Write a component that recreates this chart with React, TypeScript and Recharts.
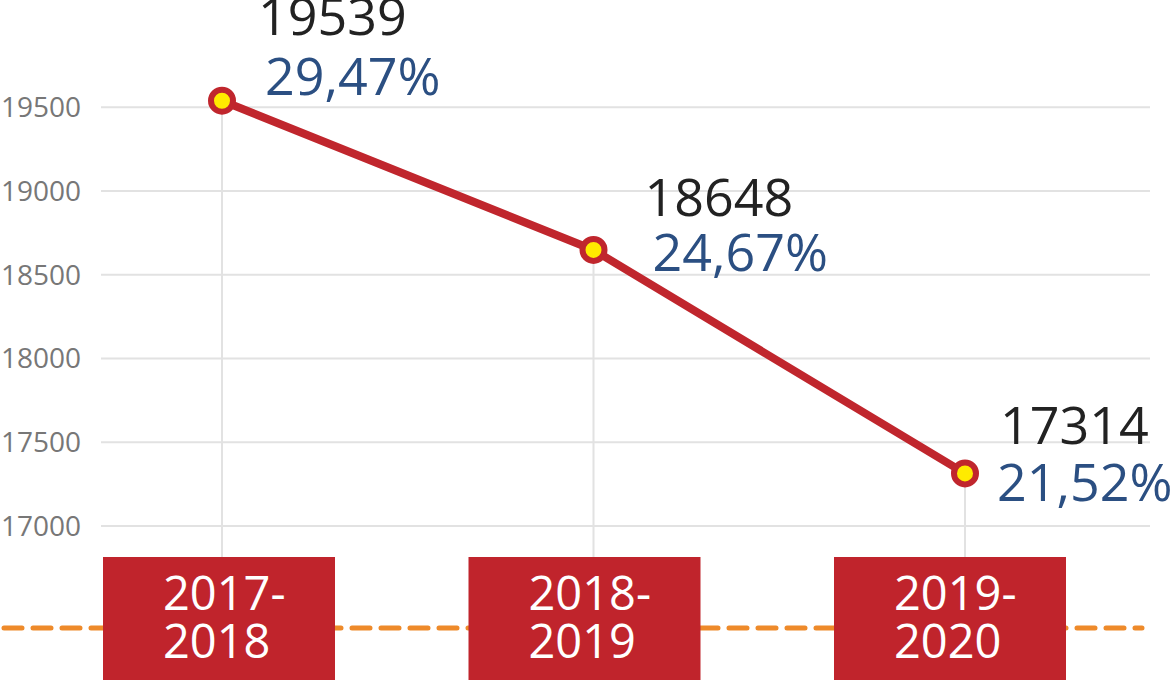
import * as React from 'react';
import { LineChart, Line, XAxis, YAxis, ReferenceLine } from 'recharts';

const periods = ['2017-2018', '2018-2019', '2019-2020'];
const students = [19539, 18648, 17314];
const shares = ['29,47%', '24,67%', '21,52%'];
const yTicks = [17000, 17500, 18000, 18500, 19000, 19500];
const yFloor = 16815;

// label offsets (value line / percent line) relative to each point
const labelOffsets = [
  { vx: 36, vy: -66, px: 43, py: -6 },
  { vx: 51, vy: -34, px: 59, py: 21 },
  { vx: 35, vy: -29, px: 32, py: 28 },
];

const data = periods.map((p, i) => ({ period: p, value: students[i], share: shares[i] }));

const FONT = '"Open Sans", "Noto Sans", sans-serif';
const RED = '#c0262d';
const GRID = '#e2e2e2';

const PeriodTick = (props: any) => {
  const { x, y, payload, index } = props;
  const [a, b] = String(payload.value).split('-');
  const cx = x - 3 - 6 * index;
  return (
    <g>
      <rect x={cx - 116} y={y} width={232} height={130} fill="#c0242c" />
      <text x={cx - 56} y={y + 53} fill="#fff" fontSize={47} fontFamily={FONT}>{a}-</text>
      <text x={cx - 56} y={y + 101} fill="#fff" fontSize={47} fontFamily={FONT}>{b}</text>
    </g>
  );
};

const PointLabel = (props: any) => {
  const { x, y, index } = props;
  const o = labelOffsets[index];
  return (
    <g>
      <text x={x + o.vx} y={y + o.vy} fill="#222" fontSize={52} fontFamily={FONT}>{students[index]}</text>
      <text x={x + o.px} y={y + o.py} fill="#2b4f82" fontSize={52} fontFamily={FONT}>{shares[index]}</text>
    </g>
  );
};

export default function App() {
  return (
    <div style={{ position: 'relative', width: 1170, height: 680, background: '#fff' }}>
      <style>{`body{margin:0}`}</style>
      <svg width={1170} height={680} style={{ position: 'absolute', left: 0, top: 0 }}>
        <line x1={4} y1={628} x2={1142} y2={628} stroke="#ee8a2a" strokeWidth={5} strokeDasharray="18 11" strokeLinecap="round" />
      </svg>
      <div style={{ position: 'absolute', left: 0, top: 0 }}>
        <LineChart width={1170} height={680} data={data} margin={{ top: 57, right: 20, bottom: 0, left: 0 }}>
          {yTicks.map((t) => (
            <ReferenceLine key={t} y={t} stroke={GRID} strokeWidth={2} />
          ))}
          {data.map((d) => (
            <ReferenceLine
              key={d.period}
              segment={[{ x: d.period, y: yFloor }, { x: d.period, y: d.value }]}
              stroke={GRID}
              strokeWidth={2}
            />
          ))}
          <XAxis
            dataKey="period"
            axisLine={false}
            tickLine={false}
            tickSize={0}
            tickMargin={0}
            height={123}
            padding={{ left: 121, right: 185 }}
            tick={<PeriodTick />}
            interval={0}
          />
          <YAxis
            domain={[yFloor, 19800]}
            ticks={yTicks}
            axisLine={false}
            tickLine={false}
            tickSize={0}
            tickMargin={20}
            width={101}
            tick={{ fill: '#777', fontSize: 28, fontFamily: FONT }}
          />
          <Line
            dataKey="value"
            stroke={RED}
            strokeWidth={8}
            isAnimationActive={false}
            dot={{ r: 11, fill: '#ffeb00', stroke: RED, strokeWidth: 6 }}
            activeDot={false}
            label={<PointLabel />}
          />
        </LineChart>
      </div>
    </div>
  );
}
